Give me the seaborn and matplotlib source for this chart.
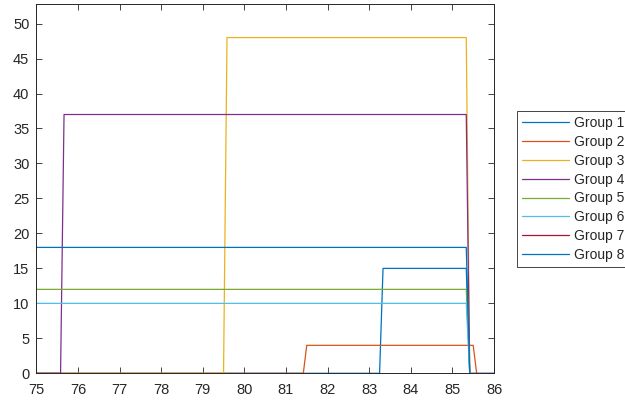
import matplotlib
matplotlib.use("Agg")
import matplotlib.pyplot as plt
import seaborn as sns
import pandas as pd

# Group series: x positions (years) and counts per group
groups = ["Group 1", "Group 2", "Group 3", "Group 4",
          "Group 5", "Group 6", "Group 7", "Group 8"]

x_g1 = [75, 83.25, 83.3333, 85.3333, 85.4167, 86]
y_g1 = [0, 0, 15, 15, 0, 0]

x_g2 = [75, 81.4167, 81.5, 85.5, 85.5833]
y_g2 = [0, 0, 4, 4, 0]

x_g3 = [75, 79.5, 79.5833, 85.3333, 85.4167]
y_g3 = [0, 0, 48, 48, 0]

x_g4 = [75, 75.5833, 75.6667, 85.3333, 85.4167]
y_g4 = [0, 0, 37, 37, 0]

x_g5 = [75, 85.3333, 85.4167]
y_g5 = [12, 12, 0]

x_g6 = [75, 85.3333, 85.4167]
y_g6 = [10, 10, 0]

x_g7 = [85.4167, 86]
y_g7 = [0, 0]

x_g8 = [75, 85.3333, 85.4167]
y_g8 = [18, 18, 0]

xs = [x_g1, x_g2, x_g3, x_g4, x_g5, x_g6, x_g7, x_g8]
ys = [y_g1, y_g2, y_g3, y_g4, y_g5, y_g6, y_g7, y_g8]

x_ticks = list(range(75, 87))
y_ticks = list(range(0, 51, 5))

colors = ["#0072BD", "#D95319", "#EDB120", "#7E2F8E",
          "#77AC30", "#4DBEEE", "#A2142F", "#0072BD"]

rows = []
for g, xv, yv in zip(groups, xs, ys):
    for a, b in zip(xv, yv):
        rows.append({"group": g, "x": a, "y": b})
df = pd.DataFrame(rows)

sns.set_style("white")
plt.rcParams["font.family"] = ["Liberation Sans", "DejaVu Sans"]

fig = plt.figure(figsize=(6.25, 4.01), dpi=100)
ax = fig.add_axes([36.3 / 625, 1 - 373.3 / 401, (494 - 36.3) / 625, (373.3 - 4) / 401])

sns.lineplot(data=df, x="x", y="y", hue="group", hue_order=groups,
             palette=dict(zip(groups, colors)), estimator=None, sort=False,
             linewidth=0.9, ax=ax)

ax.set_xlim(75, 86)
ax.set_ylim(0, 52.8)
ax.set_xticks(x_ticks)
ax.set_yticks(y_ticks)
ax.set_xlabel("")
ax.set_ylabel("")

axis_col = "#262626"
for s in ax.spines.values():
    s.set_visible(True)
    s.set_color(axis_col)
    s.set_linewidth(0.7)
ax.tick_params(axis="both", which="both", direction="in", length=4, width=0.6,
               color=axis_col, labelcolor=axis_col, labelsize=10.5,
               top=True, right=True, bottom=True, left=True)
ax.tick_params(axis="x", pad=7)
ax.tick_params(axis="y", pad=5)

handles, labels = ax.get_legend_handles_labels()
leg = ax.legend(handles, labels, loc="upper left",
                bbox_to_anchor=(517 / 625, 1 - 111 / 401),
                bbox_transform=fig.transFigure, borderaxespad=0,
                frameon=True, fancybox=False, framealpha=1, edgecolor=axis_col,
                fontsize=10, handlelength=3.4, handletextpad=0.35,
                labelspacing=0.35, borderpad=0.36)
leg.get_frame().set_linewidth(0.6)

fig.savefig("out.png", dpi=100)
